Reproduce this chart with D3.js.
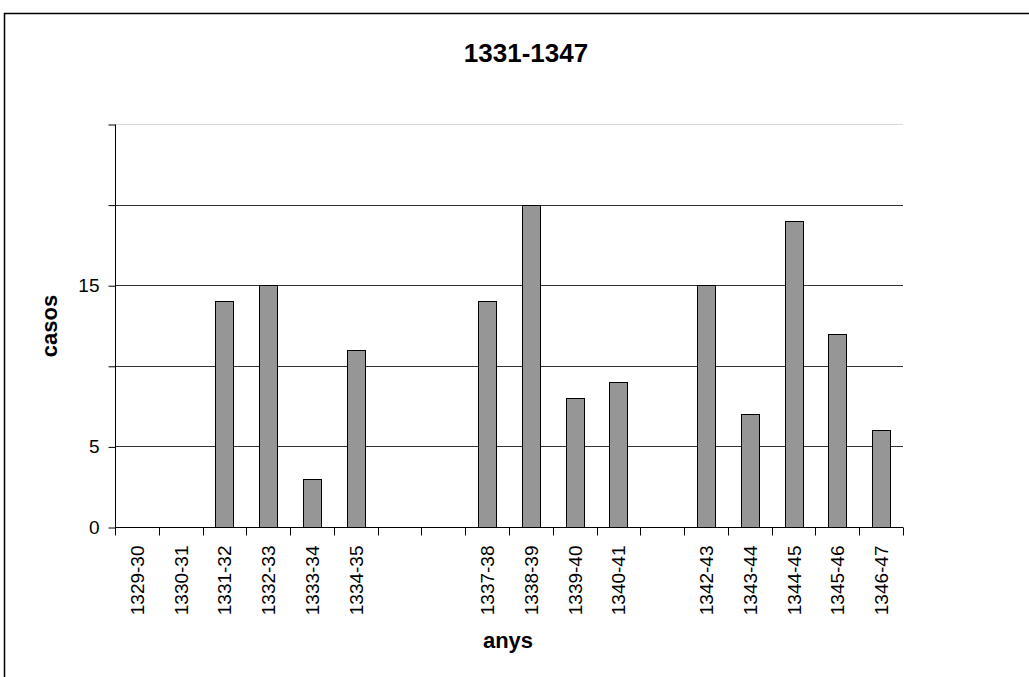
<!DOCTYPE html>
<html><head><meta charset="utf-8">
<script src="https://cdn.jsdelivr.net/npm/d3@7"></script>
<style>body{margin:0;background:#fff}svg{display:block}text{font-family:"Liberation Sans",Arial,sans-serif}</style>
</head><body>
<script>
const categories = ["1329-30","1330-31","1331-32","1332-33","1333-34","1334-35","","  ","1337-38","1338-39","1339-40","1340-41","   ","1342-43","1343-44","1344-45","1345-46","1346-47"];
const values = [0,0,14,15,3,11,null,null,14,20,8,9,null,15,7,19,12,6];
const gridValues = [5,10,15,20,25];
const tickLabels = [0,5,15];
const W=1029,H=677;
const svg=d3.select("body").append("svg").attr("width",W).attr("height",H);
svg.append("rect").attr("x",4.5).attr("y",13.5).attr("width",1040).attr("height",700).attr("fill","#fff").attr("stroke","#000").attr("stroke-width",1.5);
const m={l:115,r:903,t:124,b:527};
const x=d3.scaleBand().domain(categories).range([m.l,m.r]);
const y=d3.scaleLinear().domain([0,25]).range([m.b,m.t]);
// gridlines
svg.append("g").selectAll("line").data(gridValues).join("line")
 .attr("x1",m.l).attr("x2",m.r).attr("y1",d=>Math.round(y(d))+0.5).attr("y2",d=>Math.round(y(d))+0.5)
 .attr("stroke",d=>d===25?"#d8d8d8":"#333").attr("stroke-width",1);
// bars
const bw=18;
svg.append("g").selectAll("rect").data(categories.map((c,i)=>({c,v:values[i]})).filter(d=>d.v)).join("rect")
 .attr("x",d=>Math.round(x(d.c)+x.bandwidth()/2-bw/2)+0.5).attr("width",bw)
 .attr("y",d=>Math.round(y(d.v))+0.5).attr("height",d=>Math.round(y(0))-Math.round(y(d.v)))
 .attr("fill","#969696").attr("stroke","#000").attr("stroke-width",1);
// y axis
const yAxis=d3.axisLeft(y).tickValues([0,5,10,15,20,25]).tickSize(7).tickPadding(9)
 .tickFormat(d=>tickLabels.includes(d)?d:"");
const gy=svg.append("g").attr("transform",`translate(${m.l+0.5},0.5)`).call(yAxis);
gy.selectAll("text").attr("font-size",19).attr("fill","#000").attr("font-family","Liberation Sans, Arial, sans-serif");
gy.selectAll("line,path").attr("stroke","#000");
gy.select(".domain").attr("d",`M0,${m.t}V${m.b}`);
// x axis
const gx=svg.append("g").attr("transform",`translate(0,${m.b+0.5})`);
gx.append("line").attr("x1",m.l).attr("x2",m.r).attr("stroke","#000");
const bounds=categories.map(c=>x(c)).concat([m.r]);
gx.selectAll("line.t").data(bounds).join("line").attr("class","t")
 .attr("x1",d=>Math.round(d)+0.5).attr("x2",d=>Math.round(d)+0.5).attr("y1",0).attr("y2",8).attr("stroke","#000");
gx.selectAll("text").data(categories).join("text")
 .attr("transform",d=>`translate(${x(d)+x.bandwidth()/2+7},18) rotate(-90)`)
 .attr("text-anchor","end").attr("font-size",19).attr("fill","#000").text(d=>d.trim());
// titles
svg.append("text").attr("x",526).attr("y",62).attr("text-anchor","middle").attr("font-weight","bold").attr("font-size",26).text("1331-1347");
svg.append("text").attr("transform","translate(57,326) rotate(-90)").attr("text-anchor","middle").attr("font-weight","bold").attr("font-size",22).text("casos");
svg.append("text").attr("x",508).attr("y",648).attr("text-anchor","middle").attr("font-weight","bold").attr("font-size",22).text("anys");
</script>
</body></html>
